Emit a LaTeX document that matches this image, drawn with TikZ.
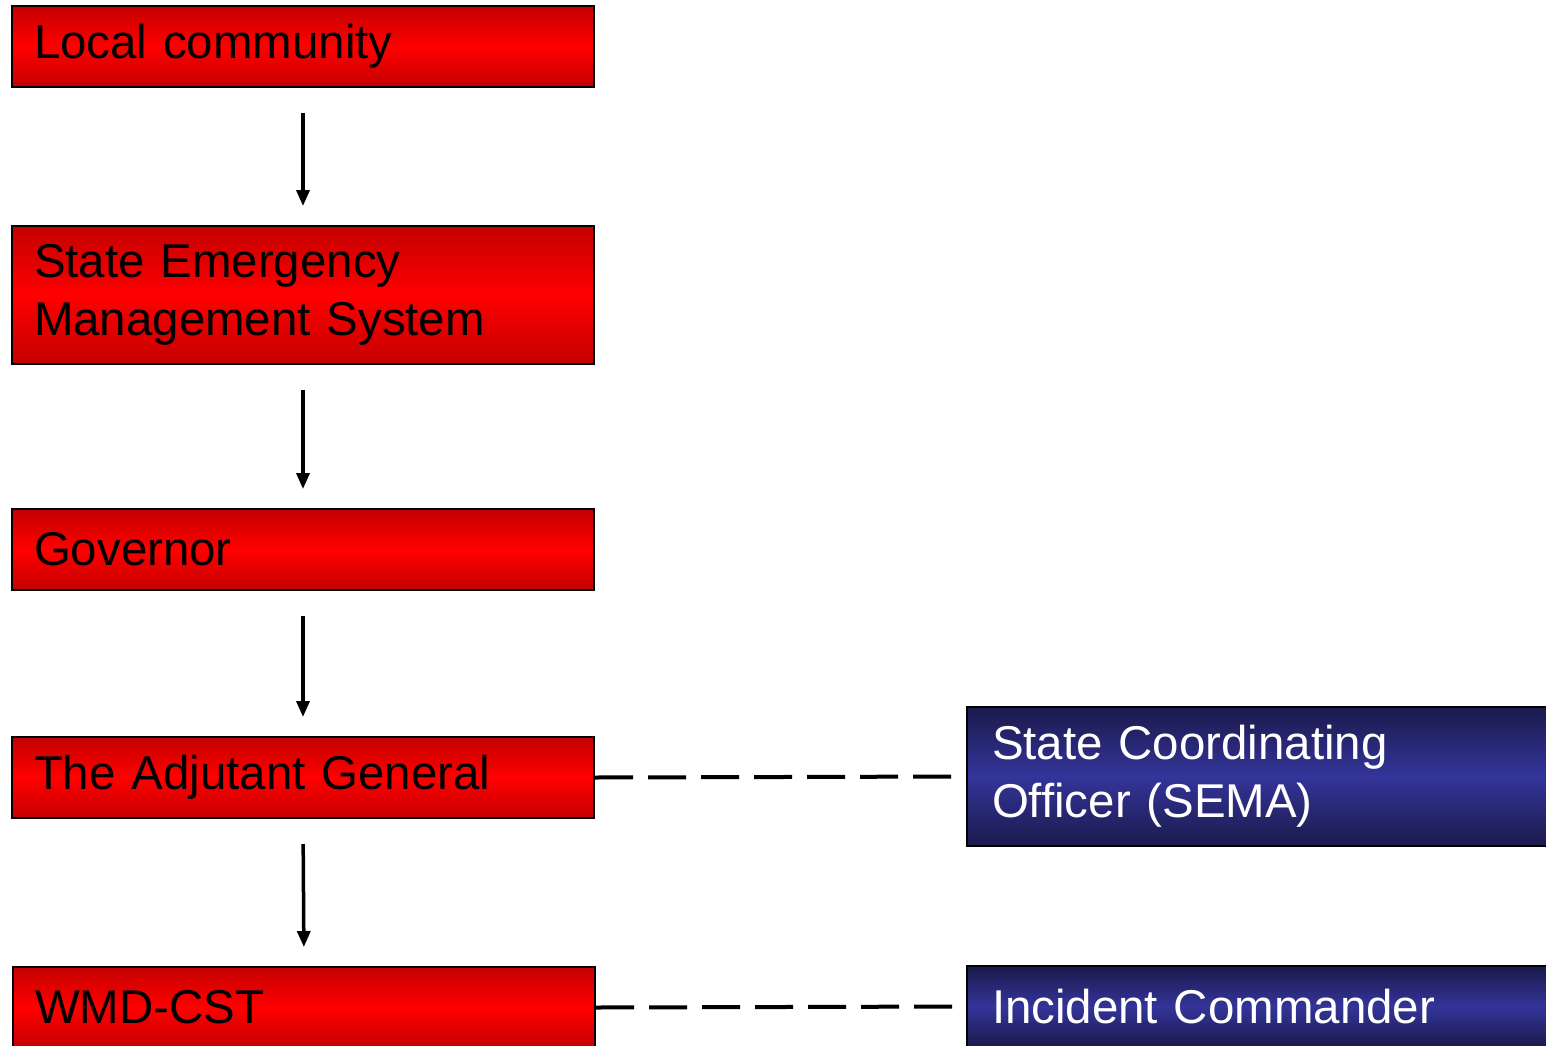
\documentclass[tikz,border=0pt]{standalone}
\usepackage{fontspec}
\setmainfont{Liberation Sans}
\usetikzlibrary{arrows.meta}

\definecolor{reddark}{HTML}{C40000}
\definecolor{redlight}{HTML}{FF0000}
\definecolor{bluedark}{HTML}{1A1A4C}
\definecolor{bluelight}{HTML}{34349A}

\tikzset{
  box/.style={draw=black, line width=0.04cm, rectangle, anchor=north west,
    align=left, inner ysep=0cm,
    font=\fontsize{27pt}{33pt}\selectfont},
  redbox/.style={box, top color=reddark, bottom color=reddark, middle color=redlight,
    text=black, inner xsep=0.44cm, text width=10.76cm, minimum width=11.64cm},
  bluebox/.style={box, top color=bluedark, bottom color=bluedark, middle color=bluelight,
    text=white, inner xsep=0.42cm, text width=11cm, minimum width=12cm},
  flow/.style={line width=0.07cm, -{Triangle[length=0.32cm,width=0.26cm]},
    shorten <=0.5cm, shorten >=0.38cm},
  link/.style={line width=0.08cm, dash pattern=on 0.76cm off 0.30cm}
}

\begin{document}
\begin{tikzpicture}
\useasboundingbox (0,0) rectangle (30.92,-20.90);
%\draw[step=1cm,gray,very thin] (0,0) grid (31,-21); %background grid

\node[redbox, minimum height=1.62cm] (local) at (0.22,-0.10) {Local community};
\node[redbox, minimum height=2.76cm] (sems) at (0.22,-4.50) {State Emergency\\Management System};
\node[redbox, minimum height=1.62cm] (governor) at (0.22,-10.16) {Governor};
\node[redbox, minimum height=1.62cm] (tag) at (0.22,-14.72) {The Adjutant General};
\node[redbox, minimum height=1.62cm] (cst) at (0.24,-19.32) {WMD-CST};

\node[bluebox, minimum height=2.78cm] (sco) at (19.32,-14.12) {State Coordinating\\Officer (SEMA)};
\node[bluebox, minimum height=1.62cm] (ic) at (19.32,-19.30) {Incident Commander};

\draw[flow] (local.south) -- (sems.north);
\draw[flow] (sems.south) -- (governor.north);
\draw[flow] (governor.south) -- (tag.north);
\draw[flow] (tag.south) -- (cst.north);

\draw[link] (tag.east) -- (sco.west);
\draw[link] (cst.east) -- (ic.west);

\end{tikzpicture}
\end{document}
